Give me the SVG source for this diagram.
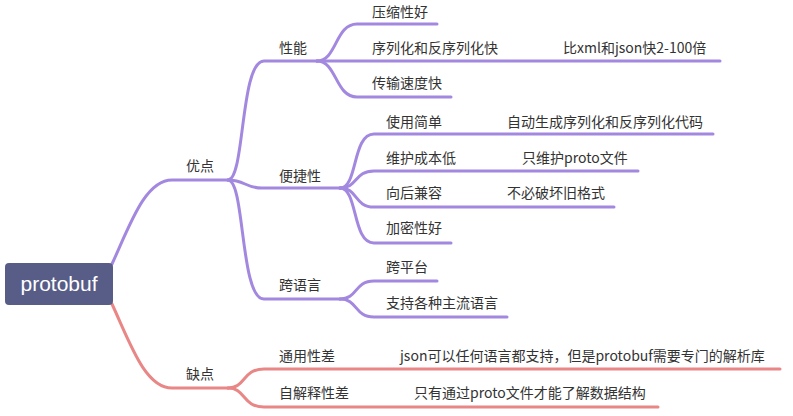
<svg xmlns="http://www.w3.org/2000/svg" width="793" height="416" viewBox="0 0 793 416">
<style>
.t{font-family:"Noto Sans CJK SC","Noto Sans",sans-serif;font-size:14px;fill:#333}
.p{fill:none;stroke:#a388e0;stroke-width:3;stroke-linecap:round}
.r{fill:none;stroke:#e98686;stroke-width:3;stroke-linecap:round}
</style>
<rect width="793" height="416" fill="#fff"/>
<g id="connectors">
<path class="p" d="M112,264 C130,225 145,180 172,180 L228,180"/>
<path class="r" d="M112,304 C130,343 145,388 172,388 L228,388"/>
<path class="p" d="M228,180 C245,180 240,61 264,61 L317,61"/>
<path class="p" d="M228,180 C245,180 245,188 262,188 L340,188"/>
<path class="p" d="M228,180 C245,180 240,299 264,299 L340,299"/>
<path class="p" d="M317,61 C337,61 335,24 357,24 L437,24"/>
<path class="p" d="M317,61 L507,61 L720,61"/>
<path class="p" d="M317,61 C337,61 335,97 357,97 L451,97"/>
<path class="p" d="M340,188 C358,188 352,134 374,134 L450,134 L713,134"/>
<path class="p" d="M340,188 C358,188 354,171 374,171 L463,171 L638,171"/>
<path class="p" d="M340,188 C358,188 354,207 374,207 L450,207 L614,207"/>
<path class="p" d="M340,188 C358,188 352,243 374,243 L451,243"/>
<path class="p" d="M340,299 C358,299 354,281 374,281 L437,281"/>
<path class="p" d="M340,299 C358,299 354,317 374,317 L507,317"/>
<path class="r" d="M228,388 C246,388 242,369 264,369 L343,369 L780,369"/>
<path class="r" d="M228,388 C246,388 242,407 264,407 L357,407 L658,407"/>
</g>
<g id="root"><rect x="5" y="263" width="108" height="42" rx="4" fill="#575d86"/><text x="59" y="291" text-anchor="middle" font-family="Liberation Sans, Arial, sans-serif" font-size="21" fill="#fff">protobuf</text></g>
<g id="n-youdian"><text class="t" x="186" y="171">优点</text></g>
<g id="n-quedian"><text class="t" x="186" y="379">缺点</text></g>
<g id="n-xingneng"><text class="t" x="279" y="53">性能</text></g>
<g id="n-bianjie"><text class="t" x="279" y="181">便捷性</text></g>
<g id="n-kuayuyan"><text class="t" x="279" y="290">跨语言</text></g>
<g id="n-yasuo"><text class="t" x="372" y="17">压缩性好</text></g>
<g id="n-xulie"><text class="t" x="372" y="53">序列化和反序列化快</text></g>
<g id="n-xulie-c"><text class="t" x="563" y="53">比xml和json快2-100倍</text></g>
<g id="n-chuanshu"><text class="t" x="372" y="88">传输速度快</text></g>
<g id="n-shiyong"><text class="t" x="386" y="127">使用简单</text></g>
<g id="n-shiyong-c"><text class="t" x="507" y="127">自动生成序列化和反序列化代码</text></g>
<g id="n-weihu"><text class="t" x="386" y="163">维护成本低</text></g>
<g id="n-weihu-c"><text class="t" x="522" y="163">只维护proto文件</text></g>
<g id="n-xianghou"><text class="t" x="386" y="198">向后兼容</text></g>
<g id="n-xianghou-c"><text class="t" x="507" y="198">不必破坏旧格式</text></g>
<g id="n-jiami"><text class="t" x="386" y="233">加密性好</text></g>
<g id="n-kuapingtai"><text class="t" x="386" y="272">跨平台</text></g>
<g id="n-zhichi"><text class="t" x="386" y="308">支持各种主流语言</text></g>
<g id="n-tongyong"><text class="t" x="279" y="361">通用性差</text></g>
<g id="n-tongyong-c"><text class="t" x="400" y="361">json可以任何语言都支持，但是protobuf需要专门的解析库</text></g>
<g id="n-zijieshi"><text class="t" x="279" y="398">自解释性差</text></g>
<g id="n-zijieshi-c"><text class="t" x="414" y="398">只有通过proto文件才能了解数据结构</text></g>
</svg>
